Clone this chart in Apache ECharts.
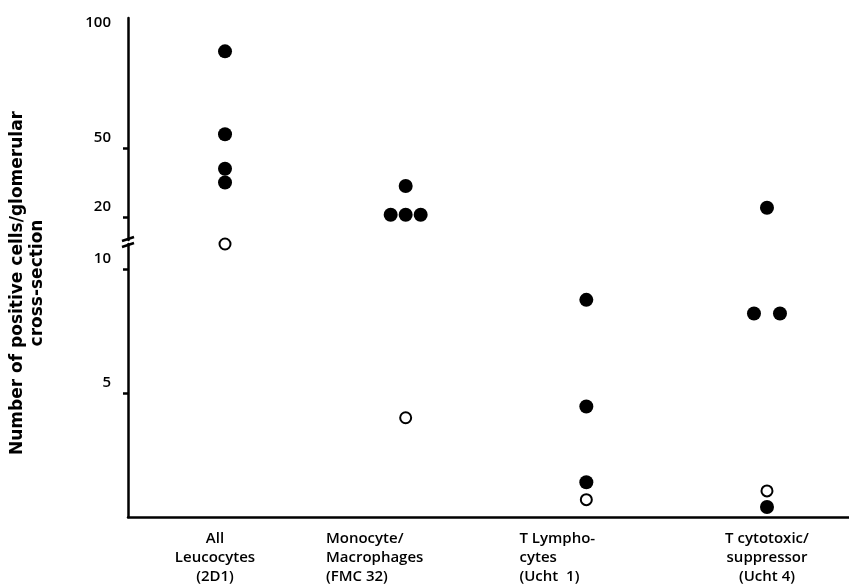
<!DOCTYPE html>
<html><head><meta charset="utf-8">
<script src="https://cdn.jsdelivr.net/npm/echarts@6/dist/echarts.min.js"></script>
<style>html,body{margin:0;padding:0;background:#fff}#c{width:849px;height:586px}</style>
</head><body><div id="c"></div>
<script>
// ---- data ----
const categories = [
  'All\nLeucocytes\n(2D1)',
  'Monocyte/\nMacrophages\n(FMC 32)',
  'T Lympho-\ncytes\n(Ucht  1)',
  'T cytotoxic/\nsuppressor\n(Ucht 4)'
];
// filled circles (one array per category)
const leucocytesFilled = [92, 56, 41, 35];
const monocyteFilled   = [33.5, 21, 21, 21];
const tLymphoFilled    = [8.75, 4.45, 1.4];
const tCytoFilled      = [24, 8.2, 8.2, 0.4];
// open circles
const leucocytesOpen = [11];
const monocyteOpen   = [4.0];
const tLymphoOpen    = [0.7];
const tCytoOpen      = [1.05];

const upperTickValues  = [20, 50];
const upperLabelValues = [20, 50, 100];
const lowerTickValues  = [5, 10];
const lowerLabelValues = [5, 10];
const yAxisName = 'Number of positive cells/glomerular\ncross-section';

// ---- build ----
const filledByCat = [leucocytesFilled, monocyteFilled, tLymphoFilled, tCytoFilled];
const openByCat   = [leucocytesOpen, monocyteOpen, tLymphoOpen, tCytoOpen];
const SPLIT = 11;          // values above go to the upper (broken) segment
const DUP_SPACING = 15;    // horizontal spread of identical values (style)

function build(byCat, upper) {
  const out = [];
  byCat.forEach((vals, ci) => {
    const counts = {};
    vals.forEach(v => { counts[v] = (counts[v] || 0) + 1; });
    const seen = {};
    vals.forEach(v => {
      if ((v > SPLIT) !== upper) return;
      const n = counts[v];
      const k = seen[v] = (seen[v] === undefined ? 0 : seen[v] + 1);
      const spacing = n === 2 ? 26 : DUP_SPACING;
      const off = (k - (n - 1) / 2) * spacing;
      out.push({ value: [ci, v], symbolOffset: [off, 0] });
    });
  });
  return out;
}

// label block styling per category (layout only)
const labelStyleKeys = ['c0', 'c1', 'c2', 'c3'];
const FONT = '"Open Sans", "Liberation Sans", sans-serif';
const richBase = { color: '#000', fontFamily: FONT, fontWeight: 600, fontSize: 15, lineHeight: 19 };
const rich = {
  c0: Object.assign({}, richBase, { align: 'center', padding: [0, 20, 0, 0] }),
  c1: Object.assign({}, richBase, { align: 'left', padding: [0, 62, 0, 0] }),
  c2: Object.assign({}, richBase, { align: 'left', padding: [0, 58, 0, 0] }),
  c3: Object.assign({}, richBase, { align: 'center' })
};
function catLabel(v) {
  const i = Math.round(v);
  const key = labelStyleKeys[i];
  return categories[i].split('\n').map(s => '{' + key + '|' + s + '}').join('\n');
}

const xMin = -0.537, xMax = 3.454;
const axisLineStyle = { color: '#000', width: 2.5 };
const tickLabel = { color: '#000', fontFamily: FONT, fontWeight: 600, fontSize: 15, margin: 17,
  verticalAlign: 'bottom', padding: [0, 0, 3, 0] };

const chart = echarts.init(document.getElementById('c'), null, { renderer: 'canvas' });
const filledStyle = { color: '#000', opacity: 1 };
const openStyle = { color: '#fff', borderColor: '#000', borderWidth: 2, opacity: 1 };

chart.setOption({
  animation: false,
  backgroundColor: '#fff',
  grid: [
    { left: 128, right: 0, top: 18, bottom: 346 },
    { left: 128, right: 0, top: 244, bottom: 69 },
    { left: 128, right: 0, top: 49, bottom: 69 }
  ],
  xAxis: [
    { gridIndex: 0, type: 'value', min: xMin, max: xMax, show: false },
    { gridIndex: 1, type: 'value', min: xMin, max: xMax,
      axisLine: { show: true, onZero: false, lineStyle: axisLineStyle },
      axisTick: { show: false }, splitLine: { show: false },
      axisLabel: {
        customValues: [0, 1, 2, 3],
        formatter: catLabel, rich: rich,
        color: '#000', fontFamily: FONT, fontWeight: 600, fontSize: 15,
        lineHeight: 19, margin: 12, align: 'center'
      }
    },
    { gridIndex: 2, type: 'value', min: xMin, max: xMax, show: false }
  ],
  yAxis: [
    { gridIndex: 0, type: 'value', min: 10, max: 106.5,
      axisLine: { show: true, onZero: false, lineStyle: axisLineStyle },
      axisTick: { show: true, customValues: upperTickValues, length: 5, lineStyle: { color: '#000', width: 2.5 } },
      splitLine: { show: false },
      axisLabel: Object.assign({ customValues: upperLabelValues }, tickLabel)
    },
    { gridIndex: 1, type: 'value', min: 0, max: 11,
      axisLine: { show: true, onZero: false, lineStyle: axisLineStyle },
      axisTick: { show: true, customValues: lowerTickValues, length: 5, lineStyle: { color: '#000', width: 2.5 } },
      splitLine: { show: false },
      axisLabel: Object.assign({ customValues: lowerLabelValues }, tickLabel)
    },
    { gridIndex: 2, type: 'value', min: 0, max: 1,
      axisLine: { show: false }, axisTick: { show: false }, axisLabel: { show: false }, splitLine: { show: false },
      name: yAxisName, nameLocation: 'middle', nameGap: 83,
      nameTextStyle: { color: '#000', fontFamily: '"DejaVu Sans", sans-serif', fontWeight: 'bold',
        fontSize: 17, lineHeight: 20, align: 'center' }
    }
  ],
  series: [
    { type: 'scatter', xAxisIndex: 0, yAxisIndex: 0, symbol: 'circle', symbolSize: 14, clip: false,
      itemStyle: filledStyle, data: build(filledByCat, true) },
    { type: 'scatter', xAxisIndex: 0, yAxisIndex: 0, symbol: 'circle', symbolSize: 11, clip: false,
      itemStyle: openStyle, data: build(openByCat, true) },
    { type: 'scatter', xAxisIndex: 1, yAxisIndex: 1, symbol: 'circle', symbolSize: 14, clip: false,
      itemStyle: filledStyle, data: build(filledByCat, false) },
    { type: 'scatter', xAxisIndex: 1, yAxisIndex: 1, symbol: 'circle', symbolSize: 11, clip: false,
      itemStyle: openStyle, data: build(openByCat, false) }
  ]
});

// axis break marks, positioned through the axes' own scales
const pUp = chart.convertToPixel({ gridIndex: 0 }, [xMin, 10]);
const pLo = chart.convertToPixel({ gridIndex: 1 }, [xMin, 11]);
chart.setOption({
  graphic: [
    { type: 'line', shape: { x1: pUp[0] - 6, y1: pUp[1] + 1, x2: pUp[0] + 6, y2: pUp[1] - 3 },
      style: { stroke: '#000', lineWidth: 2.5 } },
    { type: 'line', shape: { x1: pLo[0] - 6, y1: pLo[1] + 3, x2: pLo[0] + 6, y2: pLo[1] - 1 },
      style: { stroke: '#000', lineWidth: 2.5 } }
  ]
});
</script>
</body></html>
